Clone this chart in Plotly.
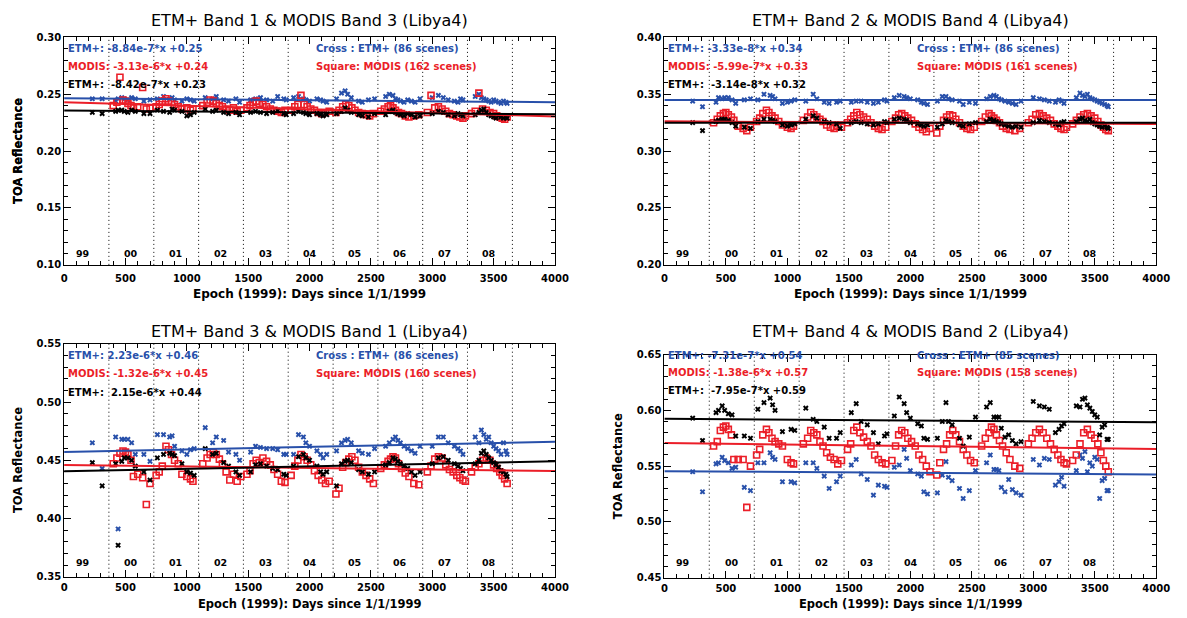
import plotly.graph_objects as go

# ---------------- data ----------------
etm_days = [230, 310,
            420, 440, 470, 490, 520, 550, 580, 650, 700,
            760, 810, 860, 880, 900, 960, 1000, 1030, 1060,
            1150, 1210, 1240, 1300, 1340, 1400, 1430,
            1520, 1560, 1600, 1650, 1700, 1740, 1790, 1810,
            1870, 1910, 1950, 1970, 2000, 2060, 2090, 2110, 2140,
            2220, 2260, 2290, 2310, 2340, 2400, 2430, 2480, 2530,
            2620, 2650, 2680, 2700, 2720, 2740, 2770, 2800, 2830, 2860, 2900,
            3000, 3050, 3090, 3130, 3180, 3210, 3230, 3250,
            3350, 3380, 3400, 3420, 3440, 3460, 3480, 3500, 3520, 3540, 3560, 3580, 3600, 3610]

etm_days_b4 = [230, 310,
               420, 440, 470, 490, 520, 550, 580, 650, 700,
               760, 810, 860, 880, 900, 960, 1030, 1060,
               1150, 1210, 1240, 1300, 1340, 1400, 1430,
               1520, 1560, 1600, 1650, 1700, 1740, 1790, 1810,
               1870, 1910, 1950, 1970, 2000, 2060, 2090, 2110, 2140,
               2220, 2260, 2290, 2310, 2340, 2400, 2430, 2480, 2530,
               2620, 2650, 2680, 2700, 2720, 2740, 2770, 2800, 2830, 2860, 2900,
               3000, 3050, 3090, 3130, 3180, 3210, 3230, 3250,
               3350, 3380, 3400, 3420, 3440, 3460, 3480, 3500, 3520, 3540, 3560, 3580, 3600, 3610]

modis_days = [400, 430, 455, 480, 500, 520, 545, 565, 600, 640, 670, 700,
              750, 775, 800, 830, 850, 875, 900, 930, 960, 1000, 1030, 1050,
              1130, 1165, 1190, 1215, 1240, 1265, 1290, 1320, 1350, 1380, 1410, 1440,
              1490, 1515, 1540, 1565, 1590, 1620, 1650, 1680, 1710, 1740, 1770, 1800,
              1850, 1880, 1905, 1930, 1955, 1980, 2010, 2040, 2070, 2100, 2130, 2160,
              2215, 2240, 2270, 2295, 2320, 2345, 2370, 2400, 2430, 2460, 2490, 2520,
              2580, 2610, 2640, 2660, 2680, 2700, 2725, 2750, 2780, 2810, 2850, 2890,
              2960, 2990, 3020, 3050, 3080, 3110, 3140, 3170, 3200, 3225, 3250, 3270,
              3320, 3350, 3380, 3410, 3440, 3470, 3500, 3525, 3550, 3570, 3590, 3610]

# Panel 1: ETM+ Band 1 & MODIS Band 3
p1_blue = [.246, .246,
           .244, .246, .247, .246, .245, .247, .246, .244, .245,
           .246, .248, .246, .247, .245, .244, .246, .245, .244,
           .247, .246, .248, .245, .244, .246, .243,
           .245, .246, .247, .245, .244, .248, .246, .245,
           .247, .248, .246, .245, .244, .246, .245, .244, .243,
           .246, .251, .253, .250, .247, .244, .243, .245, .246,
           .248, .250, .249, .246, .245, .244, .243, .245, .244, .243, .246,
           .247, .249, .247, .245, .244, .243, .246, .245,
           .248, .250, .247, .246, .245, .244, .243, .245, .244, .243, .242, .244, .243, .242]
p1_black = [.234, .233,
            .235, .236, .236, .235, .234, .236, .235, .233, .233,
            .236, .235, .234, .237, .236, .235, .231, .232, .234,
            .237, .235, .236, .234, .233, .234, .232,
            .234, .235, .234, .233, .234, .236, .233, .232,
            .233, .235, .234, .233, .232, .233, .232, .231, .232,
            .233, .235, .238, .236, .234, .232, .231, .230, .233,
            .232, .235, .236, .234, .233, .232, .231, .233, .232, .230, .231,
            .233, .235, .234, .232, .231, .233, .232, .231,
            .232, .234, .236, .237, .234, .232, .231, .230, .229, .231, .230, .229, .230, .229]
p1_red = [.240, .243, .265, .245, .244, .242, .240, .238, .239, .256, .237, .238,
          .239, .241, .244, .246, .244, .243, .241, .239, .237, .238, .236, .237,
          .240, .243, .245, .244, .242, .240, .239, .237, .236, .238, .235, .236,
          .238, .240, .243, .244, .242, .241, .239, .237, .236, .235, .234, .236,
          .236, .239, .241, .249, .241, .239, .237, .236, .234, .233, .234, .235,
          .234, .236, .239, .241, .240, .238, .236, .234, .233, .232, .231, .233,
          .235, .237, .239, .240, .238, .236, .234, .233, .231, .230, .231, .232,
          .234, .249, .238, .239, .237, .235, .233, .232, .231, .230, .229, .231,
          .233, .235, .251, .237, .236, .234, .233, .231, .230, .229, .228, .230]

# Panel 2: ETM+ Band 2 & MODIS Band 4
p2_blue = [.344, .339,
           .343, .347, .346, .347, .347, .345, .342, .345, .346,
           .345, .350, .349, .348, .346, .342, .343, .344, .345,
           .344, .350, .346, .343, .342, .343, .344,
           .343, .344, .344, .343, .342, .343, .345, .344,
           .347, .349, .348, .347, .346, .345, .343, .342, .341,
           .344, .348, .348, .346, .345, .344, .341, .343, .342,
           .346, .348, .349, .348, .346, .345, .344, .343, .342, .341, .344,
           .347, .346, .345, .344, .343, .345, .344, .342,
           .347, .351, .349, .348, .350, .347, .346, .345, .344, .343, .342, .341, .340, .339]
p2_black = [.325, .318,
            .326, .327, .328, .328, .327, .325, .322, .321, .320,
            .326, .328, .328, .327, .326, .323, .322, .323, .324,
            .328, .331, .329, .326, .325, .324, .320,
            .325, .326, .325, .324, .323, .324, .326, .325,
            .328, .329, .328, .327, .325, .324, .323, .322, .323,
            .321, .324, .327, .326, .325, .323, .322, .324, .325,
            .326, .328, .327, .326, .325, .324, .323, .322, .321, .322, .321,
            .325, .327, .326, .325, .324, .323, .325, .326,
            .326, .328, .329, .327, .326, .328, .325, .324, .323, .322, .321, .322, .321, .320]
p2_red = [.325, .328, .331, .333, .334, .332, .330, .327, .322, .320, .318, .321,
          .326, .329, .333, .336, .334, .331, .329, .326, .323, .321, .320, .322,
          .327, .330, .334, .332, .330, .328, .326, .323, .321, .320, .322, .321,
          .325, .328, .331, .334, .332, .330, .328, .325, .322, .320, .319, .321,
          .326, .329, .332, .333, .331, .329, .327, .324, .321, .319, .317, .320,
          .316, .322, .327, .330, .332, .331, .328, .325, .322, .320, .319, .321,
          .326, .330, .333, .331, .329, .327, .325, .322, .320, .319, .318, .320,
          .325, .328, .332, .333, .331, .329, .327, .324, .322, .320, .319, .321,
          .324, .327, .330, .332, .333, .331, .329, .326, .323, .321, .319, .318]

# Panel 3: ETM+ Band 3 & MODIS Band 1
p3_blue = [.465, .443,
           .470, .391, .468, .468, .468, .465, .455, .455, .449,
           .472, .472, .470, .471, .462, .458, .455, .459, .460,
           .478, .465, .470, .467, .457, .455, .450,
           .457, .462, .461, .460, .460, .459, .455, .455,
           .455, .472, .470, .465, .462, .458, .455, .452, .455,
           .458, .465, .467, .468, .465, .458, .456, .455, .460,
           .462, .465, .468, .470, .467, .465, .462, .460, .458, .456, .462,
           .462, .470, .470, .465, .462, .460, .458, .455,
           .470, .465, .476, .472, .468, .470, .465, .462, .460, .458, .455, .465, .458, .455]
p3_black = [.448, .428,
            .447, .377, .449, .452, .452, .450, .445, .440, .433,
            .452, .455, .456, .455, .454, .447, .440, .439, .437,
            .460, .455, .456, .448, .445, .440, .437,
            .440, .446, .447, .445, .443, .442, .438, .437,
            .445, .453, .455, .452, .450, .445, .440, .438, .440,
            .428, .447, .449, .450, .448, .442, .440, .438, .440,
            .446, .448, .452, .451, .449, .447, .445, .443, .440, .437, .440,
            .447, .452, .453, .450, .447, .445, .443, .441,
            .447, .450, .456, .458, .455, .452, .450, .448, .446, .444, .441, .440, .438, .436]
p3_red = [.447, .452, .456, .458, .457, .455, .450, .436, .438, .435, .412, .430,
          .437, .440, .445, .462, .459, .455, .450, .447, .438, .436, .434, .432,
          .447, .452, .455, .457, .455, .451, .447, .440, .433, .438, .432, .436,
          .438, .441, .447, .450, .448, .452, .449, .446, .442, .438, .432, .431,
          .437, .445, .450, .455, .453, .450, .446, .441, .437, .433, .430, .432,
          .421, .426, .444, .448, .451, .453, .450, .444, .440, .437, .434, .430,
          .443, .446, .449, .451, .453, .452, .447, .443, .439, .436, .430, .429,
          .440, .445, .451, .453, .452, .446, .442, .440, .437, .435, .433, .432,
          .440, .444, .447, .450, .452, .450, .446, .443, .440, .437, .434, .430]

# Panel 4: ETM+ Band 4 & MODIS Band 2
p4_blue = [.545, .527,
           .552, .553, .558, .555, .553, .548, .549, .531, .528,
           .553, .553, .562, .558, .556, .536, .536, .535,
           .553, .553, .548, .541, .530, .536, .541,
           .551, .556, .543, .538, .524, .533, .532, .531,
           .549, .551, .565, .557, .546, .543, .541, .527, .525,
           .526, .542, .554, .540, .537, .530, .521, .528, .546,
           .553, .560, .547, .547, .546, .531, .527, .538, .529, .526, .524,
           .556, .551, .557, .556, .533, .536, .540, .532,
           .546, .560, .557, .563, .545, .553, .550, .558, .556, .521, .537, .539, .528, .528]
p4_black = [.593, .573,
            .598, .600, .604, .600, .597, .596, .577, .577, .575,
            .601, .607, .611, .605, .600, .581, .583, .582,
            .602, .592, .590, .585, .575, .575, .580,
            .598, .606, .590, .587, .580, .570, .577, .579,
            .595, .612, .606, .598, .593, .588, .586, .575, .574,
            .575, .590, .607, .590, .587, .575, .568, .576, .594,
            .603, .607, .594, .594, .594, .584, .576, .578, .573, .570, .572,
            .608, .604, .603, .601, .580, .583, .586, .588,
            .604, .603, .610, .611, .605, .602, .599, .596, .594, .578, .585, .587, .574, .574]
p4_red = [.568, .572, .582, .585, .586, .583, .578, .556, .556, .556, .513, .550,
          .560, .565, .578, .583, .580, .575, .572, .570, .568, .556, .553, .552,
          .570, .575, .582, .580, .578, .572, .568, .562, .558, .556, .552, .555,
          .565, .570, .582, .585, .580, .576, .572, .568, .560, .556, .553, .552,
          .555, .568, .578, .582, .580, .575, .572, .568, .560, .556, .550, .545,
          .542, .553, .565, .570, .578, .582, .578, .572, .565, .560, .555, .553,
          .568, .575, .580, .585, .583, .578, .573, .568, .562, .556, .550, .548,
          .570, .575, .580, .583, .580, .575, .570, .565, .560, .556, .553, .552,
          .555, .560, .570, .580, .583, .578, .575, .570, .562, .555, .550, .545]

# fits: slope, intercept (blue ETM+, red MODIS, black ETM+)
fit_slopes = [[-8.84e-7, -3.13e-6, -8.42e-7],
              [-3.33e-8, -5.99e-7, -3.14e-8],
              [2.23e-6, -1.32e-6, 2.15e-6],
              [-7.31e-7, -1.38e-6, -7.95e-7]]
fit_intercepts = [[0.2465, 0.2430, 0.2357],
                  [0.3450, 0.3262, 0.3250],
                  [0.4570, 0.4460, 0.4405],
                  [0.5455, 0.5708, 0.5925]]

fit_texts = [["ETM+: -8.84e-7*x +0.25", "MODIS: -3.13e-6*x +0.24", "ETM+:  -8.42e-7*x +0.23"],
             ["ETM+: -3.33e-8*x +0.34", "MODIS: -5.99e-7*x +0.33", "ETM+:  -3.14e-8*x +0.32"],
             ["ETM+: 2.23e-6*x +0.46", "MODIS: -1.32e-6*x +0.45", "ETM+:  2.15e-6*x +0.44"],
             ["ETM+: -7.31e-7*x +0.54", "MODIS: -1.38e-6*x +0.57", "ETM+:  -7.95e-7*x +0.59"]]
scene_texts = [["Cross : ETM+ (86 scenes)", "Square: MODIS (162 scenes)"],
               ["Cross : ETM+ (86 scenes)", "Square: MODIS (161 scenes)"],
               ["Cross : ETM+ (86 scenes)", "Square: MODIS (160 scenes)"],
               ["Cross : ETM+ (85 scenes)", "Square: MODIS (158 scenes)"]]

titles = ["ETM+ Band 1 & MODIS Band 3 (Libya4)",
          "ETM+ Band 2 & MODIS Band 4 (Libya4)",
          "ETM+ Band 3 & MODIS Band 1 (Libya4)",
          "ETM+ Band 4 & MODIS Band 2 (Libya4)"]
y_ranges = [[0.10, 0.30], [0.20, 0.40], [0.35, 0.55], [0.45, 0.65]]

year_bounds = [365, 731, 1096, 1461, 1826, 2192, 2557, 2922, 3287, 3653]
year_labels = ["99", "00", "01", "02", "03", "04", "05", "06", "07", "08"]
year_label_days = [150, 548, 910, 1275, 1640, 2005, 2370, 2735, 3100, 3465]

# ---------------- layout geometry ----------------
W, H = 1187, 618
x_doms = [[62 / W, 560 / W], [671 / W, 1170 / W], [62 / W, 560 / W], [671 / W, 1170 / W]]
y_doms = [[1 - 264 / H, 1 - 32 / H], [1 - 264 / H, 1 - 32 / H],
          [1 - 582 / H, 1 - 344.5 / H], [1 - 583 / H, 1 - 355.5 / H]]
text_rows = [[0.953, 0.871, 0.793], [0.953, 0.871, 0.793],
             [0.950, 0.872, 0.792], [0.995, 0.918, 0.838]]
year_row = [0.048, 0.048, 0.062, 0.066]
title_y = [1 - 15 / H, 1 - 15 / H, 1 - 332 / H, 1 - 332 / H]
xlabel_y = [1 - 294 / H, 1 - 294 / H, 1 - 609.5 / H, 1 - 609.5 / H]
xlabel_size = [12, 12, 11.5, 11.5]
xtick_standoff = [4, 4, 1, 1]
ylabel_x = [15 / W, 15 / W, 15 / W, 624 / W]

BLUE = "rgb(40,80,170)"
RED = "rgb(235,30,40)"
BLACK = "black"
FONT = "DejaVu Sans"

panels = [
    (etm_days, p1_blue, p1_black, p1_red),
    (etm_days, p2_blue, p2_black, p2_red),
    (etm_days, p3_blue, p3_black, p3_red),
    (etm_days_b4, p4_blue, p4_black, p4_red),
]

fig = go.Figure()
annotations = []
shapes = []

def nbsp(s):
    return s.replace(" ", "\u00a0")

def bfont(size, color="black"):
    return dict(family=FONT, size=size, color=color, weight="bold")

for i, (edays, yb, yk, yr) in enumerate(panels):
    xa = "x" if i == 0 else f"x{i+1}"
    ya = "y" if i == 0 else f"y{i+1}"
    xname = "xaxis" if i == 0 else f"xaxis{i+1}"
    yname = "yaxis" if i == 0 else f"yaxis{i+1}"

    fig.add_trace(go.Scatter(x=edays, y=yb, mode="markers", xaxis=xa, yaxis=ya,
                             marker=dict(symbol="x", size=5, color=BLUE, line=dict(width=0)),
                             showlegend=False))
    fig.add_trace(go.Scatter(x=modis_days, y=yr, mode="markers", xaxis=xa, yaxis=ya,
                             marker=dict(symbol="square-open", size=6, color=RED,
                                         line=dict(width=1.6, color=RED)),
                             showlegend=False))
    fig.add_trace(go.Scatter(x=edays, y=yk, mode="markers", xaxis=xa, yaxis=ya,
                             marker=dict(symbol="x", size=5, color=BLACK, line=dict(width=0)),
                             showlegend=False))
    for s, b, c in zip(fit_slopes[i], fit_intercepts[i], [BLUE, RED, BLACK]):
        fig.add_trace(go.Scatter(x=[0, 4000], y=[b, b + s * 4000], mode="lines",
                                 xaxis=xa, yaxis=ya, line=dict(color=c, width=2),
                                 showlegend=False))

    fig.layout[xname] = dict(domain=x_doms[i], anchor=ya, range=[0, 4000],
                             tickmode="linear", tick0=0, dtick=500,
                             ticks="inside", ticklen=7, tickwidth=1, tickcolor="black",
                             minor=dict(dtick=100, ticks="inside", ticklen=4, tickcolor="black"),
                             showline=True, linecolor="black", linewidth=1, mirror="ticks",
                             showgrid=False, zeroline=False, ticklabelstandoff=xtick_standoff[i],
                             tickfont=bfont(10))
    fig.layout[yname] = dict(domain=y_doms[i], anchor=xa, range=y_ranges[i],
                             tickmode="linear", tick0=y_ranges[i][0], dtick=0.05,
                             tickformat=".2f",
                             ticks="inside", ticklen=7, tickwidth=1, tickcolor="black",
                             minor=dict(dtick=0.01, ticks="inside", ticklen=4, tickcolor="black"),
                             showline=True, linecolor="black", linewidth=1, mirror="ticks",
                             showgrid=False, zeroline=False,
                             tickfont=bfont(10))

    for d in year_bounds:
        shapes.append(dict(type="line", xref=xa, yref=f"{ya} domain", x0=d, x1=d, y0=0, y1=1,
                           layer="below",
                           line=dict(color="black", width=1, dash="1px,3px")))
    for d, lab in zip(year_label_days, year_labels):
        annotations.append(dict(xref=xa, yref=f"{ya} domain", x=d, y=year_row[i], text=lab,
                                showarrow=False, xanchor="center", yanchor="middle",
                                font=bfont(9.5)))
    for t, c, yy in zip(fit_texts[i], [BLUE, RED, BLACK], text_rows[i]):
        annotations.append(dict(xref=f"{xa} domain", yref=f"{ya} domain", x=0.004, y=yy,
                                text=nbsp(t), showarrow=False, xanchor="left", yanchor="middle",
                                font=bfont(10, c)))
    for t, c, yy in zip(scene_texts[i], [BLUE, RED], text_rows[i][:2]):
        annotations.append(dict(xref=f"{xa} domain", yref=f"{ya} domain", x=0.51, y=yy,
                                text=nbsp(t), showarrow=False, xanchor="left", yanchor="middle",
                                font=bfont(10, c)))
    annotations.append(dict(xref="paper", yref="paper", x=sum(x_doms[i]) / 2, y=title_y[i],
                            text=titles[i], showarrow=False, xanchor="center", yanchor="middle",
                            font=dict(family=FONT, size=16, color="black")))
    annotations.append(dict(xref="paper", yref="paper", x=sum(x_doms[i]) / 2, y=xlabel_y[i],
                            text="Epoch (1999): Days since 1/1/1999", showarrow=False,
                            xanchor="center", yanchor="middle",
                            font=bfont(xlabel_size[i])))
    annotations.append(dict(xref="paper", yref="paper", x=ylabel_x[i], y=sum(y_doms[i]) / 2,
                            text="TOA Reflectance", showarrow=False, textangle=-90,
                            xanchor="center", yanchor="middle",
                            font=bfont(11.5)))

fig.update_layout(width=W, height=H, autosize=False, margin=dict(l=0, r=0, t=0, b=0),
                  paper_bgcolor="white", plot_bgcolor="white",
                  showlegend=False, annotations=annotations, shapes=shapes,
                  font=dict(family=FONT, color="black"))

fig.write_html("out.html", config={"displayModeBar": False},
               post_script="document.body.style.margin='0px';"
                           "document.body.style.padding='0px';"
                           "document.body.style.overflow='hidden';"
                           "document.documentElement.style.overflow='hidden';")
